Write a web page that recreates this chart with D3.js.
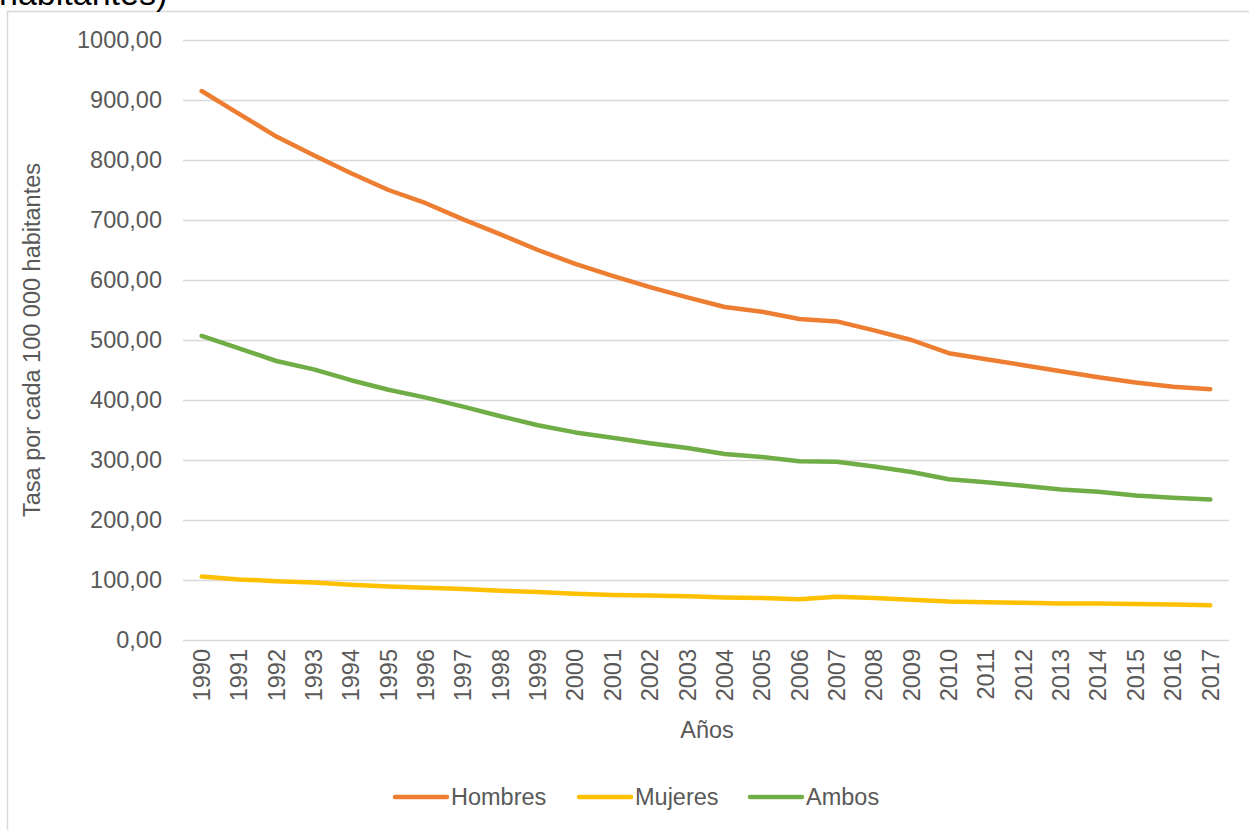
<!DOCTYPE html>
<html>
<head>
<meta charset="utf-8">
<script src="https://cdn.jsdelivr.net/npm/d3@7"></script>
<style>
  body { margin: 0; background: #fff; }
  svg { display: block; font-family: "Liberation Sans", Arial, sans-serif; }
</style>
</head>
<body>
<div id="chart"></div>
<script>
// jaren en waarden (tasa por cada 100 000 habitantes)
const years = [1990, 1991, 1992, 1993, 1994, 1995, 1996, 1997, 1998, 1999,
  2000, 2001, 2002, 2003, 2004, 2005, 2006, 2007, 2008, 2009,
  2010, 2011, 2012, 2013, 2014, 2015, 2016, 2017];
const hombres = [915, 877, 839, 808, 778, 750, 728, 701, 676, 650,
  627, 607, 588, 571, 555, 547, 535, 531, 516, 500,
  478, 468, 458, 448, 438, 429, 422, 418];
const mujeres = [106, 101, 98, 96, 92, 89, 87, 85, 82, 80,
  77, 75, 74, 73, 71, 70, 68, 72, 70, 67,
  64, 63, 62, 61, 61, 60, 59, 58];
const ambos = [507, 486, 465, 451, 433, 417, 404, 389, 373, 358,
  346, 337, 328, 320, 310, 305, 298, 297, 289, 280,
  268, 263, 257, 251, 247, 241, 237, 234];
const yTicks = [0, 100, 200, 300, 400, 500, 600, 700, 800, 900, 1000];

const series = [
  {name: "Hombres", values: hombres, color: "#ED7D31"},
  {name: "Mujeres", values: mujeres, color: "#FFC000"},
  {name: "Ambos", values: ambos, color: "#70AD47"}
];

const width = 1249, height = 830;
const plot = {left: 183, right: 1229, top: 40, bottom: 640};
const textColor = "#595959";
const fontSize = 23.5;

const svg = d3.select("#chart").append("svg")
    .attr("width", width)
    .attr("height", height);

// rand van het grafiekgebied
svg.append("rect")
    .attr("x", 7.5).attr("y", 11.5)
    .attr("width", 1400).attr("height", 1000)
    .attr("fill", "none")
    .attr("stroke", "#d9d9d9")
    .attr("stroke-width", 1.5);

// titel, grotendeels buiten beeld (zoals in het origineel)
svg.append("text")
    .attr("x", -1).attr("y", 5)
    .attr("font-size", 34)
    .attr("fill", "#000")
    .text("habitantes)");

const xScale = d3.scaleBand()
    .domain(years)
    .range([plot.left, plot.right])
    .padding(0);

const yScale = d3.scaleLinear()
    .domain([0, 1000])
    .range([plot.bottom, plot.top]);

// rasterlijnen en y-as
const yAxis = svg.append("g")
    .attr("transform", "translate(" + plot.left + ",0)")
    .call(d3.axisLeft(yScale)
      .tickValues(yTicks)
      .tickSize(-(plot.right - plot.left))
      .tickPadding(21)
      .tickFormat(d => d3.format(".2f")(d).replace(".", ",")));
yAxis.select(".domain").remove();
yAxis.selectAll(".tick line")
    .attr("stroke", "#d9d9d9")
    .attr("stroke-width", 1.5);
yAxis.selectAll(".tick text")
    .attr("font-size", fontSize)
    .attr("font-family", "Liberation Sans, Arial, sans-serif")
    .attr("fill", textColor);

// x-as met gedraaide jaartallen
const xAxis = svg.append("g")
    .attr("transform", "translate(0," + plot.bottom + ")")
    .call(d3.axisBottom(xScale).tickSize(0).tickPadding(0));
xAxis.select(".domain").remove();
xAxis.selectAll(".tick text")
    .attr("font-size", fontSize)
    .attr("font-family", "Liberation Sans, Arial, sans-serif")
    .attr("fill", textColor)
    .attr("transform", "rotate(-90)")
    .attr("x", -9)
    .attr("y", 0)
    .attr("dy", "0.35em")
    .attr("text-anchor", "end");

// lijnen
const line = d3.line()
    .x((d, i) => xScale(years[i]) + xScale.bandwidth() / 2)
    .y(d => yScale(d));

svg.append("g").selectAll("path")
    .data(series)
    .join("path")
    .attr("fill", "none")
    .attr("stroke", d => d.color)
    .attr("stroke-width", 4.5)
    .attr("stroke-linecap", "round")
    .attr("stroke-linejoin", "round")
    .attr("d", d => line(d.values));

// astitels
svg.append("text")
    .attr("x", 707).attr("y", 738)
    .attr("text-anchor", "middle")
    .attr("font-size", fontSize)
    .attr("fill", textColor)
    .text("Años");

svg.append("text")
    .attr("transform", "translate(40," + (plot.top + plot.bottom) / 2 + ") rotate(-90)")
    .attr("text-anchor", "middle")
    .attr("font-size", fontSize)
    .attr("fill", textColor)
    .text("Tasa por cada 100 000 habitantes");

// legenda
const legendX = [393, 577, 748];
const legend = svg.append("g").selectAll("g")
    .data(series)
    .join("g")
    .attr("transform", (d, i) => "translate(" + legendX[i] + ",797)");
legend.append("line")
    .attr("x1", 2).attr("x2", 54)
    .attr("stroke", d => d.color)
    .attr("stroke-width", 4.5)
    .attr("stroke-linecap", "round");
legend.append("text")
    .attr("x", 58).attr("dy", "0.35em")
    .attr("font-size", fontSize)
    .attr("fill", textColor)
    .text(d => d.name);
</script>
</body>
</html>
